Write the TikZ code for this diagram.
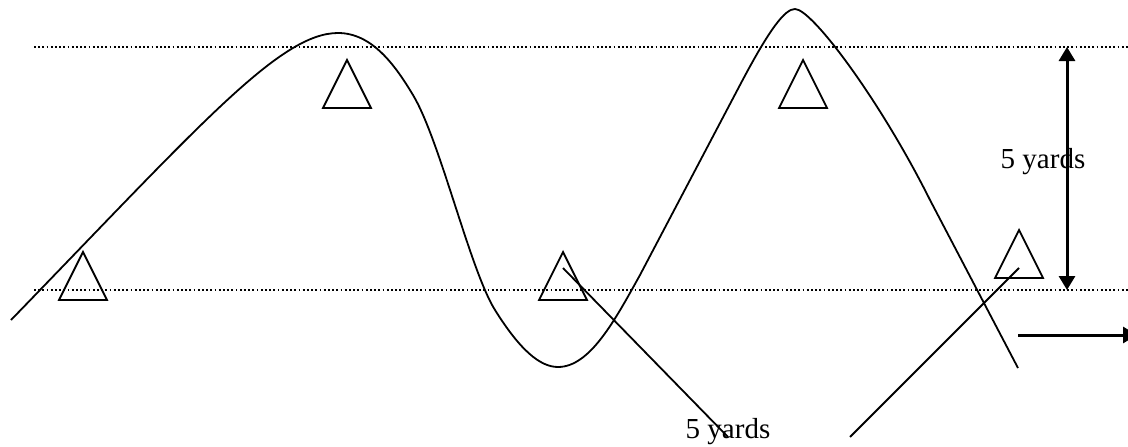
\documentclass[tikz,border=0pt]{standalone}
\usepackage{fontspec}
\setmainfont{Liberation Serif}
\usetikzlibrary{arrows.meta}
\begin{document}
\begin{tikzpicture}[x=1pt,y=-1pt,
  cone/.pic={\draw[line width=1.8pt] (-24,0) -- (0,-48) -- (24,0) -- cycle;},
  guide/.style={line width=1.5pt, dash pattern=on 1.8pt off 2.4pt},
  path/.style={line width=1.8pt},
  run/.style={line width=1.8pt},
  meas/.style={line width=3pt},
  lbl/.style={font=\fontsize{29}{34}\selectfont, inner sep=0pt, anchor=base}]
\useasboundingbox (0,0) rectangle (1128,447);
\clip (0,0) rectangle (1128,447);
% guide lines
\draw[guide] (34,47) -- (1128,47);
\draw[guide] (34,290) -- (1128,290);
% cones (base centres)
\coordinate (t1) at (83,300);
\coordinate (t2) at (347,108);
\coordinate (t3) at (563,300);
\coordinate (t4) at (803,108);
\coordinate (t5) at (1019,278);
\pic at (t1) {cone};
\pic at (t2) {cone};
\pic at (t3) {cone};
\pic at (t4) {cone};
\pic at (t5) {cone};
% weaving path
\draw[path] (11,320) .. controls (200,125) and (280,33) .. (338,33)
  .. controls (372,33) and (395,65) .. (413,95)
  .. controls (440,140) and (470,270) .. (495,310)
  .. controls (520,350) and (540,367) .. (558,367)
  .. controls (590,367) and (615,320) .. (640,275)
  -- (740,85)
  .. controls (770,28) and (785,9) .. (795,9)
  .. controls (812,9) and (880,100) .. (930,200)
  -- (1018,368);
% runs to labels
\coordinate (c3) at (563,268);
\coordinate (e3) at (728,437);
\coordinate (c5) at (1019,268);
\coordinate (e5) at (850,437);
\draw[run] (c3) -- (e3);
\draw[run] (c5) -- (e5);
% labels
\node[lbl] (l1) at (728,438) {5 yards};
\node[lbl] (l2) at (1043,168) {5 yards};
% measure arrow
\coordinate (mt) at (1067,47);
\coordinate (mb) at (1067,290);
\draw[meas, {Triangle[length=14pt,width=16pt]}-{Triangle[length=14pt,width=16pt]}] (mt) -- (mb);
% direction arrow
\coordinate (ds) at (1018,335);
\coordinate (de) at (1137,335);
\draw[meas, -{Triangle[length=14pt,width=16pt]}] (ds) -- (de);
\end{tikzpicture}
\end{document}
